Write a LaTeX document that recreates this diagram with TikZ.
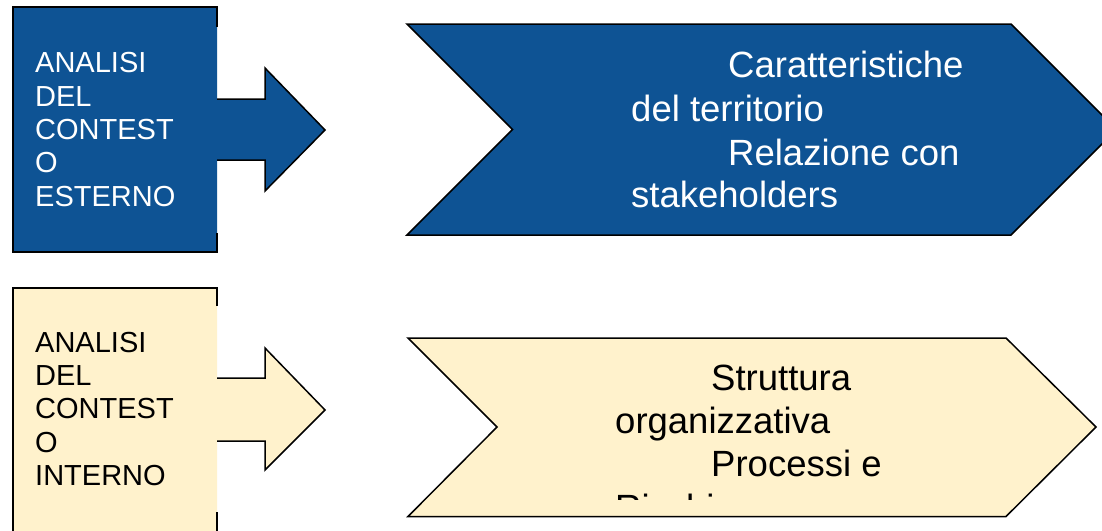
\documentclass[tikz,border=0pt]{standalone}
\usepackage{fontspec}
\setmainfont{Liberation Sans}
\definecolor{boxblue}{HTML}{0E5394}
\definecolor{boxcream}{HTML}{FFF2CC}
\begin{document}
\begin{tikzpicture}[x=1pt,y=-1pt,
  outline/.style={draw=black,line width=1.5pt,line join=miter},
  lefttxt/.style={anchor=base west,inner sep=0pt,font=\fontsize{29}{33.5}\selectfont},
  righttxt/.style={anchor=base west,inner sep=0pt,font=\fontsize{36.5}{43.5}\selectfont}]
\clip (0,0) rectangle (1102,530);
\fill[white] (0,0) rectangle (1102,530);
% top-left box with arrow
\fill[boxblue] (13,7) -- (217,7) -- (217,99) -- (265,99) -- (265,68) -- (325,130) -- (265,191) -- (265,160) -- (217,160) -- (217,252) -- (13,252) -- cycle;
\draw[outline] (217,27) -- (217,7) -- (13,7) -- (13,252) -- (217,252) -- (217,233);
\draw[outline] (217,99) -- (265,99) -- (265,68) -- (325,130) -- (265,191) -- (265,160) -- (217,160);
% bottom-left box with arrow
\fill[boxcream] (13,288) -- (217,288) -- (217,378) -- (265,378) -- (265,348) -- (325,410) -- (265,470) -- (265,441) -- (217,441) -- (217,540) -- (13,540) -- cycle;
\draw[outline] (217,306) -- (217,288) -- (13,288) -- (13,540);
\draw[outline] (217,512) -- (217,540);
\draw[outline] (217,378) -- (265,378) -- (265,348) -- (325,410) -- (265,470) -- (265,441) -- (217,441);
% chevrons
\draw[outline,fill=boxblue] (407,24) -- (1011,24) -- (1116.5,129.5) -- (1011,235) -- (407,235) -- (512.5,129.5) -- cycle;
\draw[outline,fill=boxcream] (408,338) -- (1006,338) -- (1096,427) -- (1006,516.5) -- (408,516.5) -- (497,427) -- cycle;
% left texts
\begin{scope}[every node/.style={lefttxt,text=white}]
\node (e1) at (35,72.7) {ANALISI};
\node (e2) at (35,106) {DEL};
\node (e3) at (35,139.3) {CONTEST};
\node (e4) at (35,172.6) {O};
\node (e5) at (35,206) {ESTERNO};
\end{scope}
\begin{scope}[every node/.style={lefttxt,text=black}]
\node (i1) at (35,352.3) {ANALISI};
\node (i2) at (35,385.6) {DEL};
\node (i3) at (35,418.9) {CONTEST};
\node (i4) at (35,452.2) {O};
\node (i5) at (35,485.5) {INTERNO};
\end{scope}
% right texts
\begin{scope}[every node/.style={righttxt,text=white}]
\node (c1) at (728,77.3) {Caratteristiche};
\node (c2) at (631,121.7) {del territorio};
\node (c3) at (728,165) {Relazione con};
\node (c4) at (631,207.5) {stakeholders};
\end{scope}
\begin{scope}[every node/.style={righttxt,text=black}]
\node (s1) at (711,390) {Struttura};
\node (s2) at (615,433.3) {organizzativa};
\node (s3) at (711,476.7) {Processi e};
\begin{scope}
\clip (400,300) rectangle (1102,499);
\node (s4) at (615,520) {Rischi};
\end{scope}
\end{scope}
\end{tikzpicture}
\end{document}
